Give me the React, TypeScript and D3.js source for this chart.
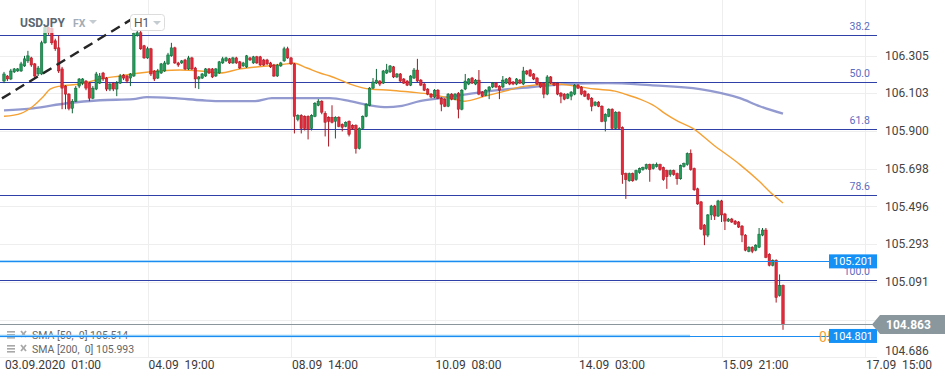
import React from 'react';
import * as d3 from 'd3';

// ---------- DATA (USDJPY H1) ----------
const opens = [
  106.168,106.195,106.179,106.217,106.222,106.222,106.249,106.276,106.292,106.260,
  106.206,106.206,106.373,106.454,106.449,106.384,106.346,106.233,106.141,106.098,
  106.022,106.060,106.141,106.157,106.168,106.157,106.076,106.125,106.157,106.211,
  106.184,106.125,106.157,106.125,106.157,106.200,106.195,106.184,106.195,106.411,
  106.427,106.357,106.292,106.341,106.222,106.184,106.211,106.222,106.260,106.303,
  106.346,106.265,106.265,106.281,106.233,106.292,106.238,106.179,106.184,106.195,
  106.233,106.233,106.195,106.211,106.265,106.276,106.287,106.265,106.292,106.271,
  106.249,106.244,106.292,106.265,106.298,106.298,106.281,106.281,106.265,106.254,
  106.195,106.249,106.276,106.341,106.292,106.260,105.963,105.984,105.979,105.979,
  105.914,105.979,106.038,106.060,105.995,105.974,105.974,105.952,105.974,105.936,
  105.925,105.952,105.930,105.930,105.806,105.914,105.979,106.038,106.130,106.157,
  106.168,106.157,106.211,106.217,106.244,106.190,106.206,106.179,106.168,106.146,
  106.184,106.227,106.173,106.152,106.125,106.098,106.082,106.119,106.076,106.071,
  106.033,106.098,106.071,106.103,106.017,106.125,106.152,106.184,106.152,106.173,
  106.109,106.092,106.119,106.136,106.157,106.141,106.136,106.157,106.184,106.163,
  106.152,106.173,106.152,106.222,106.227,106.206,106.184,106.157,106.157,106.098,
  106.190,106.157,106.157,106.103,106.098,106.076,106.087,106.098,106.146,106.136,
  106.114,106.098,106.076,106.038,106.055,106.033,105.952,105.979,106.017,105.914,
  106.001,105.920,105.671,105.633,105.671,105.639,105.677,105.693,105.698,105.720,
  105.698,105.709,105.720,105.704,105.687,105.666,105.687,105.671,105.644,105.709,
  105.720,105.779,105.698,105.590,105.520,105.396,105.342,105.450,105.498,105.444,
  105.525,105.455,105.417,105.428,105.417,105.412,105.390,105.342,105.255,105.277,
  105.261,105.277,105.342,105.369,105.239,105.180,105.207,105.018,105.072
];
const highs = [
  106.217,106.200,106.233,106.238,106.238,106.271,106.303,106.330,106.298,106.265,
  106.249,106.384,106.465,106.460,106.460,106.395,106.411,106.244,106.146,106.103,
  106.071,106.141,106.184,106.184,106.173,106.163,106.141,106.217,106.211,106.217,
  106.190,106.157,106.163,106.168,106.206,106.206,106.200,106.211,106.427,106.438,
  106.465,106.362,106.352,106.346,106.227,106.233,106.265,106.276,106.319,106.373,
  106.352,106.271,106.281,106.287,106.303,106.298,106.244,106.195,106.211,106.238,
  106.238,106.238,106.238,106.276,106.298,106.298,106.292,106.298,106.298,106.276,
  106.271,106.308,106.298,106.303,106.303,106.303,106.287,106.287,106.271,106.260,
  106.260,106.271,106.352,106.352,106.298,106.265,105.990,105.990,105.984,105.984,
  105.990,106.055,106.071,106.065,106.006,105.979,106.038,105.979,105.979,105.941,
  105.952,105.957,105.936,105.936,105.920,105.984,106.049,106.136,106.184,106.233,
  106.173,106.227,106.260,106.254,106.249,106.211,106.211,106.184,106.173,106.200,
  106.238,106.287,106.179,106.157,106.130,106.103,106.125,106.125,106.082,106.076,
  106.103,106.103,106.103,106.109,106.125,106.206,106.184,106.190,106.179,106.227,
  106.114,106.125,106.141,106.163,106.163,106.146,106.195,106.184,106.190,106.168,
  106.184,106.179,106.244,106.227,106.233,106.211,106.190,106.163,106.163,106.200,
  106.195,106.163,106.163,106.109,106.103,106.103,106.114,106.152,106.152,106.141,
  106.119,106.103,106.082,106.060,106.060,106.038,105.995,106.022,106.022,106.006,
  106.006,105.925,105.677,105.677,105.677,105.693,105.704,105.709,105.725,105.725,
  105.725,105.731,105.725,105.709,105.693,105.693,105.693,105.677,105.720,105.731,
  105.785,105.801,105.704,105.596,105.525,105.401,105.455,105.504,105.504,105.531,
  105.531,105.461,105.434,105.434,105.423,105.417,105.396,105.347,105.282,105.282,
  105.293,105.380,105.380,105.380,105.245,105.212,105.212,105.131,105.077
];
const lows = [
  106.157,106.168,106.173,106.211,106.217,106.217,106.244,106.265,106.244,106.179,
  106.195,106.200,106.368,106.416,106.362,106.330,106.211,106.017,106.017,106.011,
  105.995,106.055,106.130,106.146,106.119,106.060,106.071,106.119,106.152,106.168,
  106.114,106.114,106.114,106.087,106.152,106.173,106.157,106.141,106.190,106.406,
  106.335,106.287,106.287,106.195,106.168,106.179,106.206,106.217,106.254,106.298,
  106.260,106.244,106.260,106.227,106.227,106.227,106.130,106.125,106.179,106.190,
  106.206,106.184,106.190,106.206,106.260,106.271,106.260,106.260,106.260,106.233,
  106.244,106.238,106.276,106.260,106.260,106.249,106.249,106.254,106.238,106.190,
  106.190,106.244,106.271,106.287,106.254,105.887,105.952,105.887,105.903,105.855,
  105.903,105.974,106.033,105.990,105.871,105.817,105.941,105.860,105.920,105.898,
  105.920,105.871,105.909,105.779,105.801,105.909,105.974,106.033,106.125,106.152,
  106.141,106.152,106.206,106.211,106.184,106.184,106.163,106.152,106.141,106.141,
  106.179,106.163,106.141,106.114,106.092,106.076,106.076,106.071,106.006,106.028,
  106.028,106.065,106.065,105.968,106.011,106.119,106.146,106.152,106.146,106.092,
  106.082,106.087,106.071,106.130,106.130,106.071,106.130,106.152,106.146,106.146,
  106.146,106.152,106.146,106.200,106.190,106.173,106.146,106.130,106.076,106.092,
  106.152,106.141,106.092,106.049,106.065,106.071,106.065,106.092,106.125,106.092,
  106.082,106.065,106.006,106.033,106.028,105.947,105.898,105.974,105.909,105.909,
  105.909,105.617,105.536,105.628,105.628,105.633,105.671,105.687,105.693,105.628,
  105.693,105.704,105.687,105.633,105.590,105.655,105.660,105.612,105.639,105.704,
  105.714,105.687,105.579,105.504,105.369,105.288,105.331,105.423,105.423,105.439,
  105.412,105.369,105.412,105.407,105.396,105.380,105.304,105.255,105.250,105.245,
  105.255,105.272,105.336,105.218,105.174,105.174,104.980,105.012,104.834
];
const closes = [
  106.206,106.179,106.222,106.233,106.233,106.260,106.287,106.303,106.254,106.195,
  106.238,106.373,106.454,106.427,106.373,106.341,106.222,106.130,106.098,106.022,
  106.060,106.130,106.179,106.179,106.130,106.076,106.130,106.206,106.195,106.179,
  106.125,106.152,106.125,106.157,106.195,106.184,106.168,106.206,106.422,106.427,
  106.341,106.292,106.341,106.206,106.179,106.222,106.260,106.265,106.308,106.346,
  106.265,106.254,106.276,106.233,106.292,106.233,106.179,106.190,106.206,106.233,
  106.211,106.190,106.233,106.271,106.287,106.292,106.265,106.292,106.265,106.238,
  106.265,106.303,106.281,106.298,106.265,106.254,106.254,106.260,106.244,106.195,
  106.254,106.265,106.341,106.292,106.260,105.979,105.984,105.914,105.914,105.909,
  105.984,106.049,106.060,106.001,105.947,105.952,105.947,105.974,105.925,105.920,
  105.947,105.882,105.914,105.806,105.914,105.979,106.044,106.130,106.163,106.173,
  106.152,106.222,106.227,106.249,106.190,106.206,106.168,106.157,106.146,106.195,
  106.227,106.168,106.146,106.119,106.098,106.082,106.119,106.076,106.044,106.033,
  106.098,106.071,106.098,106.017,106.119,106.168,106.179,106.157,106.173,106.098,
  106.087,106.119,106.136,106.157,106.136,106.119,106.173,106.179,106.152,106.152,
  106.179,106.157,106.222,106.206,106.195,106.179,106.152,106.136,106.098,106.190,
  106.157,106.146,106.098,106.087,106.071,106.098,106.109,106.146,106.130,106.098,
  106.087,106.071,106.033,106.055,106.033,105.952,105.990,106.017,105.914,106.001,
  105.914,105.666,105.639,105.671,105.633,105.687,105.698,105.704,105.720,105.693,
  105.720,105.720,105.693,105.639,105.655,105.687,105.666,105.644,105.714,105.725,
  105.779,105.693,105.585,105.509,105.374,105.342,105.450,105.498,105.444,105.525,
  105.450,105.417,105.428,105.412,105.401,105.385,105.342,105.261,105.277,105.255,
  105.288,105.347,105.369,105.223,105.180,105.207,105.007,105.072,104.863
];

const sma50Idx = [0,5,8.5,11.4,13.5,16.4,22.2,28.1,33.9,39.8,45.7,51.5,57.4,63.2,69.1,77,82.8,84.6,88.7,92.5,95.4,101.3,107.1,113,118.8,124.7,130.5,134.9,140.8,146.6,152.5,161.3,167.1,173,178.8,181.7,186.1,190.5,193.4,197.3,201.6,207.5,215.4,221.2,225.1,228];
const sma50Vals = [105.979,105.995,106.033,106.082,106.125,106.141,106.152,106.179,106.195,106.211,106.222,106.227,106.222,106.211,106.233,106.249,106.260,106.265,106.238,106.211,106.195,106.152,106.125,106.119,106.109,106.098,106.076,106.060,106.087,106.114,106.141,106.152,106.141,106.125,106.114,106.098,106.071,106.033,105.995,105.952,105.914,105.828,105.720,105.628,105.558,105.514];
const sma200Idx = [0,8.5,18.4,28.1,37.8,41.8,50,58,63.8,73.5,78.4,89.6,95.4,101.3,107.1,112.1,115.9,121.7,127.6,133.5,144.6,154.5,164.2,176.8,189.1,203.7,215.4,221.2,228];
const sma200Vals = [106.011,106.022,106.049,106.065,106.071,106.082,106.076,106.065,106.060,106.060,106.076,106.076,106.076,106.060,106.038,106.028,106.033,106.060,106.076,106.092,106.119,106.136,106.152,106.157,106.146,106.125,106.076,106.033,105.993];

const timeTickIdx = [0, 42, 84, 126, 168, 210, 252];
const timeTickLabels = ['03.09.2020  01:00', '04.09  19:00', '08.09  14:00', '10.09  08:00', '14.09  03:00', '15.09  21:00', '17.09  15:00'];
const priceTicks = [106.305, 106.103, 105.900, 105.698, 105.496, 105.293, 105.091, 104.888, 104.686];
const fibLevels = [38.2, 50.0, 61.8, 78.6, 100.0];
const fibHigh = 107.227;
const fibLow = 105.101;
const hLinePrices = [105.201, 104.801];
const hLineLabels = ['105.201', '104.801'];
const lastPrice = 104.863;
const trendIdx = [-0.6, 37.75];
const trendVals = [106.075, 106.504];
const legendRows = ['SMA [50,  0] 105.514', 'SMA [200,  0] 105.993'];

// ---------- CHART ----------
const W = 945;
const H = 382;
const PR = 877;
const FONT = 'Roboto, "Noto Sans", sans-serif';
const crisp = (v: number) => Math.round(v) + 0.5;

export default function App() {
  const x = d3.scaleLinear().domain([0, 252]).range([4, 865]);
  const y = d3.scaleLinear().domain([104.686, 106.305]).range([357.4, 55.5]);
  const line = d3.line<[number, number]>().x(d => x(d[0])).y(d => y(d[1])).curve(d3.curveMonotoneX);
  const sma50Path = line(sma50Idx.map((v, k) => [v, sma50Vals[k]] as [number, number])) || '';
  const sma200Path = line(sma200Idx.map((v, k) => [v, sma200Vals[k]] as [number, number])) || '';
  const trendPath = d3.line<[number, number]>().x(d => x(d[0])).y(d => y(d[1]))(
    trendIdx.map((v, k) => [v, trendVals[k]] as [number, number])) || '';
  const fibPrices = fibLevels.map(l => fibHigh - (fibHigh - fibLow) * (l / 100));
  const lastY = y(lastPrice);

  return (
    <>
      <style>{`body{margin:0;background:#fff}`}</style>
      <svg width={W} height={H} style={{ display: 'block', fontFamily: FONT }}>
        <rect x={0} y={0} width={W} height={H} fill="#fff" />
        {/* grid */}
        {priceTicks.map((p, k) => (
          <line key={'hg' + k} x1={0} x2={PR} y1={crisp(y(p))} y2={crisp(y(p))} stroke="#eeeeee" strokeWidth={1} />
        ))}
        {timeTickIdx.slice(1).map((t, k) => (
          <line key={'vg' + k} x1={crisp(x(t))} x2={crisp(x(t))} y1={0} y2={357} stroke="#eeeeee" strokeWidth={1} />
        ))}
        {/* legend */}
        {legendRows.map((r, k) => {
          const by = 339 + k * 14;
          return (
            <g key={'lg' + k}>
              <rect x={7} y={by - 8} width={8} height={1.6} fill="#a8a8a8" />
              <rect x={7} y={by - 5} width={8} height={1.6} fill="#a8a8a8" />
              <rect x={7} y={by - 2} width={8} height={1.6} fill="#a8a8a8" />
              <line x1={21} y1={by - 8} x2={26} y2={by - 2} stroke="#a8a8a8" strokeWidth={1.8} />
              <line x1={26} y1={by - 8} x2={21} y2={by - 2} stroke="#a8a8a8" strokeWidth={1.8} />
              <text x={32} y={by} fontSize={10.5} fill="#666" style={{ whiteSpace: 'pre' }}>{r}</text>
            </g>
          );
        })}
        {/* fib lines */}
        {fibPrices.map((p, k) => (
          <line key={'fl' + k} x1={0} x2={PR} y1={crisp(y(p))} y2={crisp(y(p))} stroke="#2f40a8" strokeWidth={1.1} />
        ))}
        {/* SMAs */}
        <path d={sma200Path} fill="none" stroke="#8088c8" strokeWidth={2.3} strokeOpacity={0.85} />
        <path d={sma50Path} fill="none" stroke="#f5a033" strokeWidth={1.4} />
        {/* candles */}
        {closes.map((c, i) => {
          const o = opens[i];
          const up = c >= o;
          const cx = x(i);
          const top = y(Math.max(o, c));
          const bot = y(Math.min(o, c));
          const fill = up ? '#1f9d58' : '#e4283a';
          const stroke = up ? '#0f6236' : '#a8141f';
          return (
            <g key={'c' + i}>
              <line x1={cx} x2={cx} y1={y(highs[i])} y2={y(lows[i])} stroke={stroke} strokeWidth={1} />
              <rect x={cx - 1.25} y={top} width={2.5} height={Math.max(1, bot - top)} fill={fill} stroke={stroke} strokeWidth={0.5} />
            </g>
          );
        })}
        {/* current price line */}
        <line x1={0} x2={PR} y1={crisp(lastY)} y2={crisp(lastY)} stroke="#8a969c" strokeWidth={1.2} />
        {/* horizontal blue lines */}
        {hLinePrices.map((p, k) => (
          <g key={'bl' + k}>
            <line x1={0} x2={690} y1={y(p)} y2={y(p)} stroke="#90cdf8" strokeWidth={2.4} />
            <line x1={0} x2={PR} y1={crisp(y(p))} y2={crisp(y(p))} stroke="#1a8cf2" strokeWidth={1} />
          </g>
        ))}
        {/* header overlay */}
        <rect x={0} y={10} width={112} height={23} fill="#fff" fillOpacity={0.72} />
        <text x={20} y={27} fontSize={12} fontWeight={700} fill="#5b6770">USDJPY</text>
        <text x={73} y={27} fontSize={10.5} fontWeight={700} fill="#a3adb5">FX</text>
        <path d="M89,20 L97,20 L93,24 Z" fill="#c5ccd1" />
        <path d={trendPath} fill="none" stroke="#262626" strokeWidth={2.4} strokeDasharray="10 6" />
        <rect x={130.5} y={14.5} width={34} height={16} rx={3} fill="#fff" stroke="#dcdcdc" />
        <text x={134} y={27} fontSize={12} fill="#555">H1</text>
        <path d="M153,21 L161,21 L157,25 Z" fill="#c5ccd1" />
        {/* fib labels */}
        {fibPrices.map((p, k) => (
          <text key={'ft' + k} x={870} y={y(p) - 5} fontSize={10.5} fill="#5c6bc0" textAnchor="end">
            {fibLevels[k].toFixed(1)}
          </text>
        ))}
        {/* orange partial label */}
        <text x={819} y={y(hLinePrices[1]) + 6} fontSize={14} fill="#f5a033">05</text>
        {/* blue line labels */}
        {hLinePrices.map((p, k) => (
          <g key={'bt' + k}>
            <rect x={829} y={y(p) - 7} width={48} height={14} fill="#1590f5" />
            <text x={853} y={y(p) + 4} fontSize={11} fill="#fff" textAnchor="middle">{hLineLabels[k]}</text>
          </g>
        ))}
        {/* price axis */}
        {priceTicks.map((p, k) => (
          <text key={'pt' + k} x={885} y={Math.min(y(p), 351)} dy="0.35em" fontSize={12} fill="#444">
            {p.toFixed(3)}
          </text>
        ))}
        {/* last price tag */}
        <path d={`M872,${lastY} L880,${lastY - 9.5} L945,${lastY - 9.5} L945,${lastY + 9.5} L880,${lastY + 9.5} Z`} fill="#8a979d" />
        <text x={886} y={lastY} dy="0.36em" fontSize={12} fontWeight={700} fill="#fff">{lastPrice.toFixed(3)}</text>
        {/* time axis */}
        {timeTickIdx.map((t, k) => (
          <text key={'tt' + k} x={x(t) + 1} y={369} fontSize={12} fill="#3a3a3a" style={{ whiteSpace: 'pre' }}>
            {timeTickLabels[k]}
          </text>
        ))}
      </svg>
    </>
  );
}
